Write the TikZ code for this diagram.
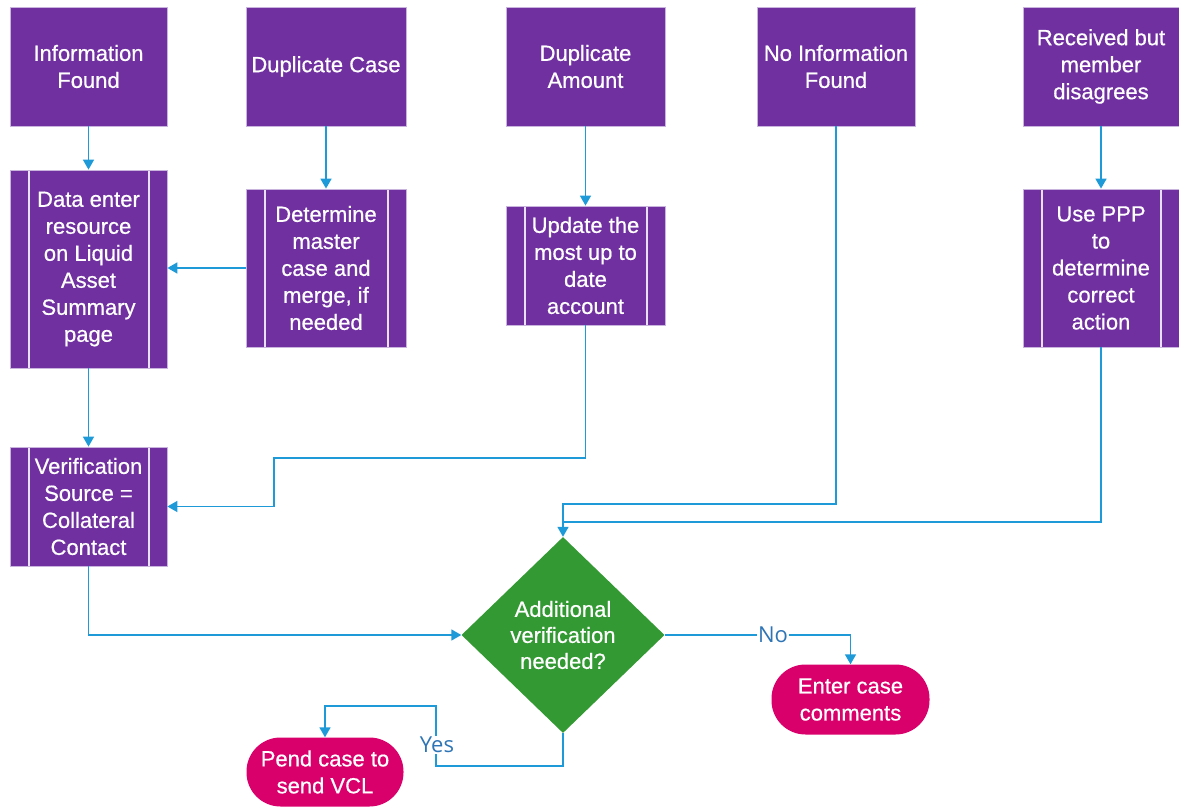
\documentclass[tikz,border=0pt]{standalone}
\usepackage{fontspec}
\setmainfont{Liberation Sans}
\newfontfamily\boxfont{Liberation Sans}[FakeBold=0.6]
\newfontfamily\lblfont{Open Sans}
\usetikzlibrary{shapes.geometric,arrows.meta}
\definecolor{procpurple}{HTML}{7030A0}
\definecolor{procedge}{HTML}{C8B4DC}
\definecolor{decgreen}{HTML}{339933}
\definecolor{termpink}{HTML}{D9006C}
\definecolor{flowblue}{HTML}{1E9AD8}
\definecolor{lblblue}{HTML}{2E75B6}
\tikzset{
  boxtext/.style={text=white, align=center, font=\boxfont\fontsize{22}{27}\selectfont},
  procbox/.style={boxtext, rectangle, fill=procpurple, draw=procedge, line width=0.8pt,
    minimum height=119pt, inner sep=0pt},
  subproc/.style={procbox,
    path picture={
      \draw[procedge!40!white, line width=1.6pt]
        ([xshift=19pt]path picture bounding box.north west) --
        ([xshift=19pt]path picture bounding box.south west);
      \draw[procedge!40!white, line width=1.6pt]
        ([xshift=-18pt]path picture bounding box.north east) --
        ([xshift=-18pt]path picture bounding box.south east);
    }},
  decision/.style={boxtext, diamond, fill=decgreen, inner sep=0pt,
    font=\boxfont\fontsize{22}{26}\selectfont},
  terminal/.style={boxtext, rectangle, rounded corners=34pt, fill=termpink, inner sep=0pt},
  flow/.style={draw=flowblue, line width=1.7pt},
  arrow/.style={flow, -{Triangle[length=10pt,width=11pt]}},
  branch/.style={text=lblblue, fill=white, inner sep=1.5pt, font=\lblfont\fontsize{22}{24}\selectfont}
}
\begin{document}
\begin{tikzpicture}[x=1pt,y=-1pt]
\useasboundingbox (0,0) rectangle (1179,810);

% starting situations
\node[procbox, minimum width=157pt] (info)   at (88.5,66.5)  {Information\\Found};
\node[procbox, minimum width=160pt] (dupc)   at (326,66.5)   {Duplicate Case};
\node[procbox, minimum width=159pt] (dupa)   at (585.5,66.5) {Duplicate\\Amount};
\node[procbox, minimum width=158pt] (noinfo) at (836,66.5)   {No Information\\Found};
\node[procbox, minimum width=156pt] (recv)   at (1101,66.5)  {Received but\\member\\disagrees};

% predefined processes
\node[subproc, minimum width=157pt, minimum height=198pt] (dataent) at (88.5,269)
  {Data enter\\resource\\on Liquid\\Asset\\Summary\\page};
\node[subproc, minimum width=160pt, minimum height=158pt] (determ) at (326,268)
  {Determine\\master\\case and\\merge, if\\needed};
\node[subproc, minimum width=159pt, minimum height=119pt] (update) at (585.5,265.5)
  {Update the\\most up to\\date\\account};
\node[subproc, minimum width=156pt, minimum height=158pt] (useppp) at (1101,268)
  {Use PPP\\to\\determine\\correct\\action};
\node[subproc, minimum width=157pt, minimum height=119pt] (verif) at (88.5,506.5)
  {Verification\\Source =\\Collateral\\Contact};

% decision and end points
\node[decision, minimum width=203pt, minimum height=196pt] (dec) at (563,635)
  {Additional\\verification\\needed?};
\node[terminal, minimum width=158pt, minimum height=70pt] (enter) at (850.5,699.5)
  {Enter case\\comments};
\node[terminal, minimum width=157pt, minimum height=69pt] (pend) at (325,772)
  {Pend case to\\send VCL};

% bend points
\coordinate (ubend) at (274,458);
\coordinate (njoin) at (563,504);
\coordinate (ybot)  at (436,766);
\coordinate (ytop)  at (436,706);

% connectors
\draw[arrow] (info) -- (dataent);
\draw[arrow] (dupc) -- (determ);
\draw[arrow] (dupa) -- (update);
\draw[arrow] (recv) -- (useppp);
\draw[arrow] (determ.west) -- (determ.west -| dataent.east);
\draw[arrow] (dataent) -- (verif);
\draw[arrow] (update.south) |- (ubend) |- (verif.east);
\draw[arrow] (noinfo.south) |- (njoin) -- (dec.north);
\draw[flow] (useppp.south) |- (dec.north |- 0,522);
\draw[arrow] (verif.south) |- (dec.west);
\draw[arrow] (dec.east) -| (enter.north);
\node[branch] (no) at (773,635) {No};
\draw[arrow] (dec.south) |- (ybot) -- (ytop) -| (pend.north);
\node[branch] (yes) at (437,745) {Yes};
\end{tikzpicture}
\end{document}
